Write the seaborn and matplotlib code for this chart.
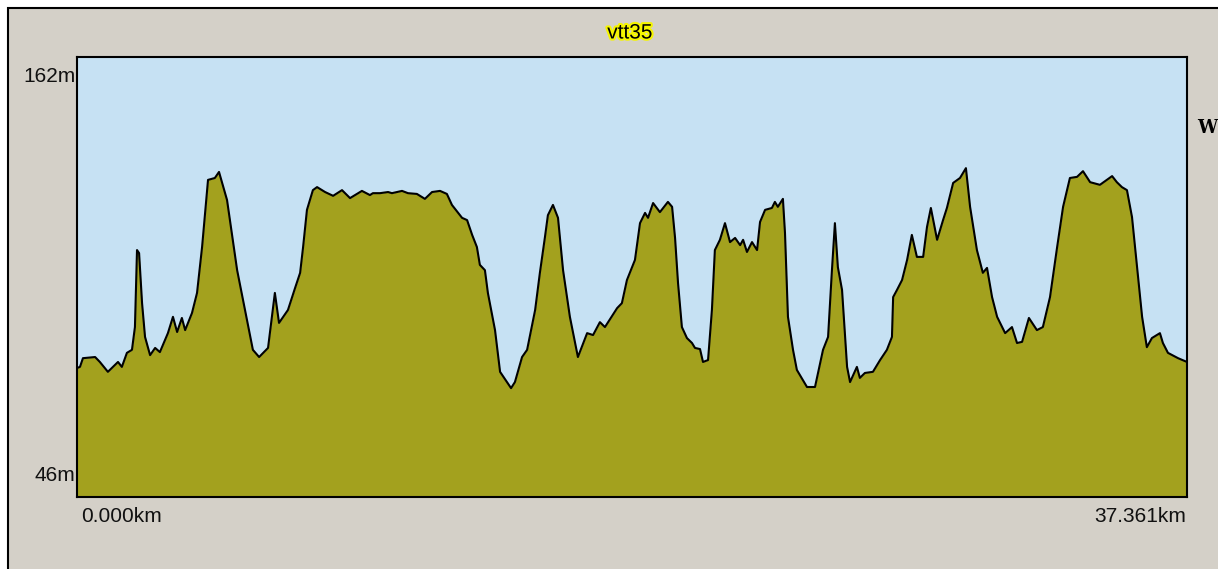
import matplotlib
matplotlib.use("Agg")
import matplotlib.pyplot as plt
import matplotlib.patheffects as pe
import matplotlib.transforms as mtransforms
from matplotlib.patches import Rectangle
import seaborn as sns
import pandas as pd

# elevation profile (distance in km, elevation in m)
distance_km = [
    0.00, 0.10, 0.20, 0.61, 0.77, 1.04, 1.21, 1.38, 1.51, 1.68, 1.85, 1.95,
    2.02, 2.09, 2.19, 2.29, 2.46, 2.63, 2.79, 3.06, 3.23, 3.37, 3.53, 3.64,
    3.87, 4.04, 4.21, 4.41, 4.64, 4.78, 5.05, 5.39, 5.59, 5.92, 6.13, 6.43,
    6.56, 6.66, 6.80, 7.10, 7.34, 7.51, 7.61, 7.74, 7.94, 8.08, 8.35, 8.62,
    8.92, 9.19, 9.59, 9.86, 9.96, 10.20, 10.47, 10.60, 10.94, 11.14, 11.44,
    11.71, 11.95, 12.22, 12.45, 12.62, 12.96, 13.13, 13.30, 13.46, 13.56,
    13.73, 13.83, 14.07, 14.24, 14.47, 14.61, 14.74, 14.98, 15.15, 15.42,
    15.58, 15.75, 15.85, 16.02, 16.19, 16.36, 16.59, 16.86, 17.17, 17.37,
    17.60, 17.77, 18.18, 18.34, 18.51, 18.78, 18.95, 19.12, 19.22, 19.39,
    19.62, 19.89, 20.03, 20.13, 20.23, 20.36, 20.53, 20.70, 20.80, 20.97,
    21.07, 21.24, 21.37, 21.47, 21.64, 21.81, 21.98, 22.15, 22.32, 22.42,
    22.55, 22.72, 22.89, 22.99, 23.16, 23.39, 23.49, 23.59, 23.76, 23.83,
    23.93, 24.10, 24.23, 24.57, 24.84, 25.11, 25.28, 25.41, 25.51, 25.61,
    25.75, 25.92, 26.02, 26.25, 26.35, 26.52, 26.79, 27.03, 27.26, 27.43,
    27.47, 27.60, 27.77, 27.94, 28.10, 28.27, 28.48, 28.61, 28.74, 28.95,
    29.15, 29.28, 29.49, 29.72, 29.92, 30.06, 30.29, 30.49, 30.63, 30.80,
    30.97, 31.24, 31.47, 31.64, 31.81, 32.04, 32.31, 32.51, 32.75, 32.99,
    33.19, 33.42, 33.66, 33.86, 34.10, 34.43, 34.84, 35.00, 35.17, 35.34,
    35.51, 35.68, 35.85, 36.01, 36.18, 36.45, 36.55, 36.72, 37.06, 37.361,
]
elevation_m = [
    80.0, 80.3, 82.6, 82.9, 81.6, 79.0, 80.3, 81.6, 80.3, 84.0, 84.8, 90.8,
    111.1, 110.3, 97.1, 88.2, 83.4, 85.3, 84.2, 89.2, 93.5, 89.5, 93.2, 90.0,
    94.5, 99.8, 111.9, 129.6, 130.1, 131.7, 124.3, 105.8, 97.9, 84.8, 82.9, 85.3,
    93.5, 99.8, 91.9, 95.3, 101.1, 105.1, 111.9, 121.7, 126.9, 127.7, 126.4, 125.4,
    126.9, 124.8, 126.7, 125.6, 126.1, 126.1, 126.4, 126.1, 126.7, 126.1, 125.9,
    124.6, 126.4, 126.7, 125.9, 123.0, 119.6, 119.0, 115.1, 111.9, 107.2,
    105.8, 99.8, 90.0, 79.0, 76.3, 74.7, 76.3, 82.9, 84.8, 95.3,
    105.1, 114.5, 120.3, 123.0, 119.6, 105.8, 93.5, 82.9, 89.2, 88.7,
    92.1, 90.8, 95.8, 97.1, 103.2, 108.5, 118.2, 120.9, 119.6, 123.5,
    121.1, 123.8, 122.5, 114.3, 102.4, 90.8, 87.9, 86.6, 85.3, 85.0,
    81.6, 82.1, 95.3, 111.1, 113.8, 118.2, 113.2, 114.3, 112.4, 113.8,
    110.6, 113.2, 111.1, 118.5, 121.7, 122.2, 123.8, 122.5, 124.6, 115.6,
    93.5, 84.8, 79.5, 75.0, 75.0, 84.8, 88.2, 105.8, 118.2, 106.6,
    100.6, 80.3, 76.3, 80.3, 77.4, 78.7, 79.0, 82.1, 84.8, 88.2,
    98.7, 100.6, 103.2, 108.5, 115.1, 109.3, 109.3, 117.2, 122.2, 113.8,
    119.0, 122.2, 128.8, 130.1, 132.7, 122.5, 111.1, 105.1, 106.4, 98.7,
    93.5, 89.2, 90.8, 86.6, 86.9, 93.2, 90.0, 90.8, 98.7, 111.9,
    122.5, 130.1, 130.4, 131.9, 129.0, 128.3, 130.6, 129.0, 127.7, 126.9,
    119.8, 106.6, 93.5, 85.5, 87.9, 89.2, 86.6, 84.0, 82.6, 81.6,
]

title = "vtt35"
y_range = [46, 162]
y_labels = ["46m", "162m"]
x_range = [0.0, 37.361]
x_labels = ["0.000km", "37.361km"]

df = pd.DataFrame({"km": distance_km, "m": elevation_m})

sns.set_style("white")
plt.rcParams["font.family"] = ["Liberation Sans Narrow", "Liberation Sans", "DejaVu Sans"]

W, H = 1218, 569
fig = plt.figure(figsize=(W / 100, H / 100), dpi=100, facecolor="white")

# grey window panel with a black frame on the left and top (runs past right/bottom edges)
fig.patches.append(Rectangle((8 / W, -0.1), 1.2, 1.1 - 8 / H, transform=fig.transFigure,
                             facecolor="#d4d0c8", edgecolor="black", linewidth=1.5,
                             zorder=-10))

ax = fig.add_axes([77 / W, (H - 497) / H, (1187 - 77) / W, (497 - 57) / H])
ax.set_zorder(5)
ax.set_facecolor("#c6e1f3")

ax.fill_between(df["km"], df["m"], y_range[0], color="#a3a11e", linewidth=0)
sns.lineplot(data=df, x="km", y="m", ax=ax, color="black", linewidth=1.5)

ax.set_xlim(x_range)
ax.set_ylim(y_range)
ax.set_xlabel("")
ax.set_ylabel("")

ax.set_xticks(x_range, labels=x_labels)
ax.set_yticks(y_range, labels=y_labels)
ax.tick_params(axis="x", direction="out", length=6, width=1.2, color="black",
               labelsize=15, pad=1, labelcolor="#111111")
ax.tick_params(axis="y", direction="out", length=4, width=1.2, color="black",
               labelsize=15, pad=-3, labelcolor="#111111")

px = 1 / 100
for lbl, ha, dx in zip(ax.get_xticklabels(), ["left", "right"], [4, -1]):
    lbl.set_horizontalalignment(ha)
    lbl.set_transform(lbl.get_transform() +
                      mtransforms.ScaledTranslation(dx * px, 0, fig.dpi_scale_trans))
for lbl, va, dy in zip(ax.get_yticklabels(), ["bottom", "top"], [12, -10]):
    lbl.set_verticalalignment(va)
    lbl.set_transform(lbl.get_transform() +
                      mtransforms.ScaledTranslation(0, dy * px, fig.dpi_scale_trans))

for side in ["left", "right", "top", "bottom"]:
    ax.spines[side].set_visible(True)
    ax.spines[side].set_color("black")
    ax.spines[side].set_linewidth(1.5)

fig.text(630 / W, 1 - 33 / H, title, ha="center", va="center", fontsize=15,
         color="black", path_effects=[pe.withStroke(linewidth=3, foreground="#f5f500")])

# legend text at the window edge
fig.text(1197 / W, 1 - 128 / H, "W", ha="left", va="center", fontsize=13,
         fontweight="bold", family=["DejaVu Serif"], color="black")

fig.savefig("out.png", dpi=100, facecolor=fig.get_facecolor())
